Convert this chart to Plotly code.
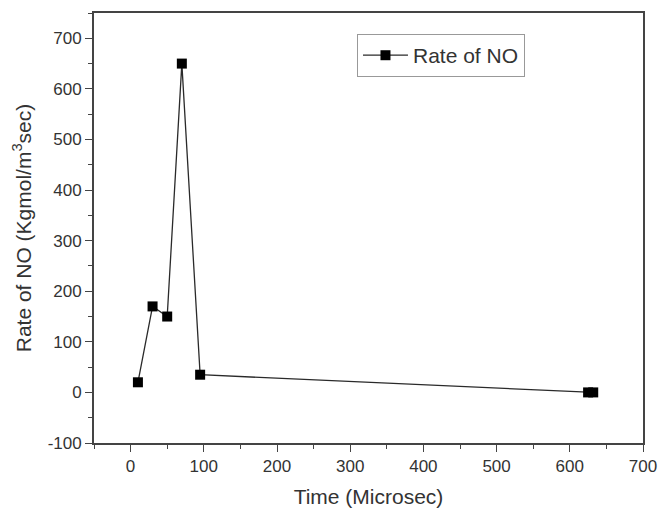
import plotly.graph_objects as go

# Rate of NO formation versus time
time_us = [10, 30, 50, 70, 95, 625, 632]
rate_no = [20, 170, 150, 650, 35, 0, 0]

x_ticks = [0, 100, 200, 300, 400, 500, 600, 700]
y_ticks = [-100, 0, 100, 200, 300, 400, 500, 600, 700]
y_tick_text = ["-100", "0", "100", "200", "300", "400", "500", "600", "700"]

axis_color = "#444444"
text_color = "#333333"
font_family = "Liberation Sans, Arial, sans-serif"

fig = go.Figure()
fig.add_trace(go.Scatter(
    x=time_us, y=rate_no,
    mode="lines+markers",
    name="Rate of NO",
    line=dict(color="#2a2a2a", width=1.3),
    marker=dict(symbol="square", size=10, color="#000000"),
))

common_axis = dict(
    showline=True, linecolor=axis_color, linewidth=1.8, mirror=True,
    showgrid=False, zeroline=False, automargin=False,
    ticks="outside", ticklen=7, tickwidth=1.3, tickcolor=axis_color,
    tickfont=dict(family=font_family, size=17, color=text_color),
)
minor_ticks = dict(dtick=50, ticks="outside", ticklen=4, tickcolor=axis_color, tickwidth=1)

fig.update_xaxes(
    range=[-50, 700], tickvals=x_ticks,
    minor=minor_ticks,
    title=dict(text="Time (Microsec)", font=dict(family=font_family, size=21, color=text_color), standoff=14),
    **common_axis,
)
fig.update_yaxes(
    range=[-100, 750], tickvals=y_ticks, ticktext=y_tick_text,
    minor=minor_ticks,
    title=dict(text="Rate of NO (Kgmol/m<sup>3</sup>sec)", font=dict(family=font_family, size=21, color=text_color), standoff=10),
    **common_axis,
)

fig.update_layout(
    width=658, height=511,
    margin=dict(l=94, r=15, t=13, b=68),
    paper_bgcolor="white", plot_bgcolor="white",
    showlegend=True,
    legend=dict(
        x=0.479, y=0.951, xanchor="left", yanchor="top",
        bordercolor="#999999", borderwidth=1, bgcolor="white",
        font=dict(family=font_family, size=21, color=text_color),
        itemwidth=45,
    ),
)

fig.write_html("out.html")
